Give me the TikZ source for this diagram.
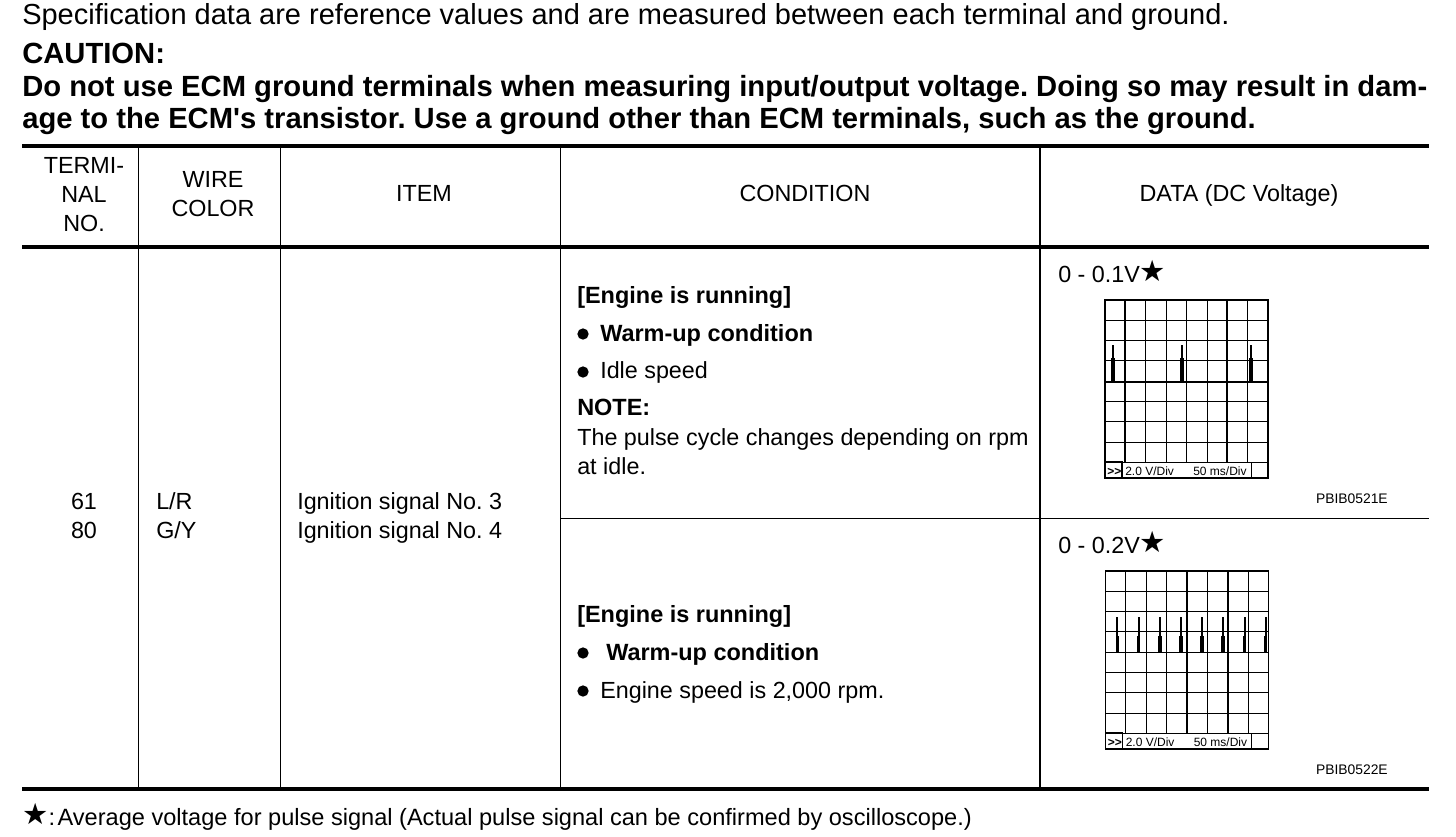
\documentclass[tikz,border=0pt]{standalone}
\usepackage{fontspec}
\setmainfont{Liberation Sans}
\newfontfamily\symfont{DejaVu Sans}
\usetikzlibrary{positioning}
\frenchspacing

\tikzset{
  txt/.style = {anchor = base west, inner sep = 0pt, font = \fontsize{17.5}{20}\selectfont},
  txtb/.style = {txt, font = \fontsize{17.6}{20}\selectfont\bfseries},
  txtc/.style = {txt, anchor = base},
  head/.style = {txt, font = \fontsize{21.75}{25}\selectfont},
  warn/.style = {txt, font = \fontsize{21.9}{25}\selectfont\bfseries},
  footer/.style = {txt, font = \fontsize{17.68}{20}\selectfont},
  tiny/.style = {anchor = base west, inner sep = 0pt, font = \fontsize{9}{10}\selectfont},
  code/.style = {anchor = base east, inner sep = 0pt, font = \fontsize{10.4}{12}\selectfont},
  rulethick/.style = {line width = 2.6pt},
  rulethin/.style = {line width = 0.75pt},
  dot/.style = {circle, fill = black, inner sep = 0pt, minimum size = 8.5pt},
  pulse/.style = {line width = 1.5pt},
  pulsefoot/.style = {line width = 2.4pt},
}
\newcommand{\starmark}{\raisebox{0.4pt}{\fontsize{22}{22}\symfont\char"2605}}

% scope screen: #1 x, #2 y, #3 first thick column, #4 second thick column
\newcommand{\screen}[4]{
  \foreach \i in {1,...,7} \draw[rulethin] (#1+\i*20.4,#2) -- (#1+\i*20.4,#2+162);
  \foreach \i in {1,...,7} \draw[rulethin] (#1,#2+\i*20.3) -- (#1+163,#2+\i*20.3);
  \draw[line width = 1.5pt] (#1+#3*20.4,#2) -- (#1+#3*20.4,#2+162);
  \draw[line width = 1.5pt] (#1+#4*20.4,#2) -- (#1+#4*20.4,#2+162);
  \draw[rulethin] (#1,#2+162) -- (#1+163,#2+162);
  \draw[line width = 1.3pt] (#1,#2) rectangle (#1+163,#2+178);
  \draw[line width = 1.1pt] (#1,#2+162) rectangle (#1+17,#2+178);
  \draw[rulethin] (#1+146,#2+162) -- (#1+146,#2+178);
  \node[tiny] at (#1+2,#2+175) {\textbf{{>}{>}}};
  \node[tiny] at (#1+20,#2+175) {2.0 V/Div};
  \node[tiny] at (#1+88,#2+175) {50 ms/Div};
}

\begin{document}
\begin{tikzpicture}[x = 0.75pt, y = -0.75pt]
\useasboundingbox (0,0) rectangle (1456,836);

\node[head] (spec) at (22,24) {Specification data are reference values and are measured between each terminal and ground.};
\node[warn] (caution) at (22,63) {CAUTION:};
\node[warn] (warn1) at (22,96) {Do not use ECM ground terminals when measuring input/output voltage. Doing so may result in dam-};
\node[warn] (warn2) at (22,128) {age to the ECM\textquotesingle s transistor. Use a ground other than ECM terminals, such as the ground.};

% table rules
\draw[rulethick] (22,146) -- (1429,146);
\draw[rulethick] (22,247) -- (1429,247);
\draw[rulethick] (22,789) -- (1429,789);
\draw[rulethin] (138,146) -- (138,789);
\draw[rulethin] (280,146) -- (280,789);
\draw[rulethin] (560,146) -- (560,789);
\draw[line width = 1.2pt] (1040,146) -- (1040,789);
\draw[rulethin] (560,518) -- (1429,518);

% header
\node[txtc] (term1) at (84,173) {TERMI-};
\node[txtc] (term2) at (84,202) {NAL};
\node[txtc] (term3) at (84,231) {NO.};
\node[txtc] (wire1) at (213,187) {WIRE};
\node[txtc] (wire2) at (213,216) {COLOR};
\node[txtc] (item) at (424,201) {ITEM};
\node[txtc] (cond) at (805,201) {CONDITION};
\node[txtc] (data) at (1239,201) {DATA (DC Voltage)};

% row
\node[txtc] (no61) at (84,509) {61};
\node[txtc] (no80) at (84,538) {80};
\node[txt] (lr) at (156,509) {L/R};
\node[txt] (gy) at (156,538) {G/Y};
\node[txt] (ign3) at (297,509) {Ignition signal No. 3};
\node[txt] (ign4) at (297,538) {Ignition signal No. 4};

\node[txtb] (run1) at (577,303) {[Engine is running]};
\node[dot] (dot1) at (583,334) {};
\node[txtb] (warm1) at (600,341) {Warm-up condition};
\node[dot] (dot2) at (583,372) {};
\node[txt] (idle) at (600,378) {Idle speed};
\node[txtb] (note) at (577,415) {NOTE:};
\node[txt] (pulse1) at (577,445) {The pulse cycle changes depending on rpm};
\node[txt] (pulse2) at (577,474) {at idle.};

\node[txtb] (run2) at (577,622) {[Engine is running]};
\node[dot] (dot3) at (583,653) {};
\node[txtb] (warm2) at (606,660) {Warm-up condition};
\node[dot] (dot4) at (583,691) {};
\node[txt] (speed) at (600,698) {Engine speed is 2,000 rpm.};

% data column
\node[txt] (volt1) at (1058,282) {0 - 0.1V\starmark};
\screen{1105}{300}{1}{6}
\draw[line width = 1.5pt] (1105,382) -- (1268,382);
\foreach \px in {1113,1182,1251} {
  \draw[pulse] (\px,345) -- (\px,382);
  \draw[pulsefoot] (\px,358) -- (\px,382);
}
\node[code] (code1) at (1388,503) {PBIB0521E};

\node[txt] (volt2) at (1058,553) {0 - 0.2V\starmark};
\screen{1105.5}{571}{4}{6}
\foreach \px in {1117.3,1138.7,1160,1181,1202,1223,1244.7,1265.7} {
  \draw[pulse] (\px,617) -- (\px,652);
  \draw[pulsefoot] (\px,636) -- (\px,652);
}
\node[code] (code2) at (1388,774) {PBIB0522E};

% footnote
\node[footer] (foot) at (22,825) {\starmark:\hspace{1.9pt}Average voltage for pulse signal (Actual pulse signal can be confirmed by oscilloscope.)};
\end{tikzpicture}
\end{document}
